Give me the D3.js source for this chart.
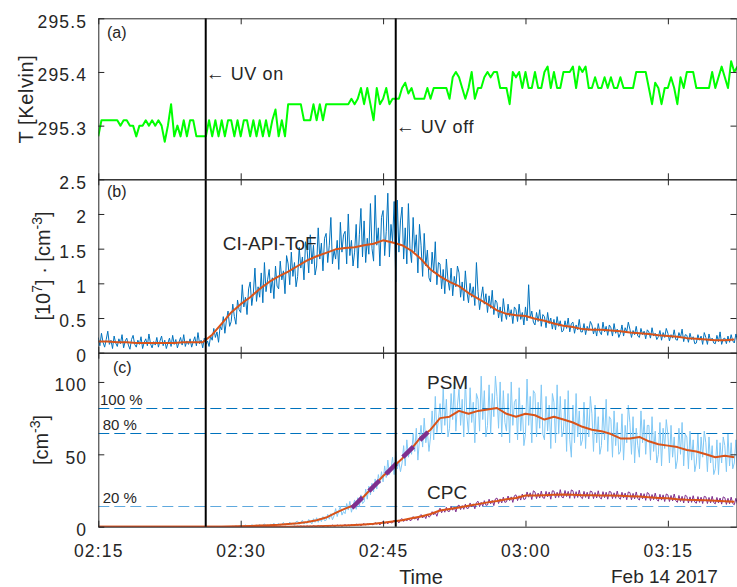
<!DOCTYPE html>
<html><head><meta charset="utf-8">
<script src="https://cdn.jsdelivr.net/npm/d3@7"></script>
<style>
body{margin:0;background:#fff}
svg{display:block}
text{font-family:"Liberation Sans",Arial,sans-serif;fill:#262626}
</style>
</head><body><svg id="c" width="737" height="587"></svg>
<script>
// ---------- data ----------
const startTime = "2017-02-14T02:15:00Z";
const endTime = "2017-02-14T03:22:17Z";
const tempStepSeconds = 20;
const ciRawStepSeconds = 10;
const psmRawStepSeconds = 10;
const cpcRawStepSeconds = 10;
const smoothStepSeconds = 60;
const xTickTimes = ["02:15","02:30","02:45","03:00","03:15"];
const dateLabel = "Feb 14 2017";
const uvTimes = ["02:26:19","02:46:20"];
const uvLabels = ["UV on","UV off"];

const tempTicks = [295.3,295.4,295.5];
const ciTicks = [0,0.5,1,1.5,2,2.5];
const cTicks = [0,50,100];

const temperature = [
295.28,295.31,295.31,295.31,295.31,295.31,295.31,295.30,295.31,295.31,
295.30,295.30,295.28,295.30,295.30,295.31,295.30,295.31,295.30,295.31,
295.30,295.27,295.30,295.34,295.28,295.30,295.28,295.31,295.28,295.31,
295.31,295.28,295.28,295.28,295.28,295.31,295.28,295.31,295.28,295.31,
295.28,295.31,295.31,295.28,295.31,295.28,295.31,295.31,295.28,295.31,
295.28,295.31,295.28,295.31,295.28,295.31,295.33,295.28,295.31,295.28,
295.34,295.34,295.34,295.34,295.34,295.31,295.31,295.31,295.34,295.31,
295.34,295.31,295.34,295.34,295.34,295.34,295.34,295.34,295.34,295.34,
295.35,295.34,295.35,295.37,295.34,295.37,295.34,295.31,295.37,295.34,
295.35,295.37,295.34,295.35,295.35,295.35,295.37,295.38,295.36,295.37,
295.35,295.35,295.35,295.35,295.37,295.35,295.37,295.37,295.37,295.37,
295.37,295.35,295.39,295.40,295.39,295.37,295.35,295.37,295.40,295.35,
295.37,295.37,295.39,295.40,295.39,295.40,295.40,295.37,295.37,295.37,
295.34,295.40,295.39,295.40,295.37,295.40,295.37,295.37,295.40,295.37,
295.37,295.40,295.41,295.37,295.40,295.37,295.37,295.40,295.40,295.40,
295.41,295.37,295.41,295.40,295.41,295.37,295.37,295.39,295.37,295.37,
295.39,295.37,295.39,295.37,295.37,295.39,295.37,295.37,295.37,295.37,
295.40,295.40,295.40,295.40,295.37,295.34,295.38,295.37,295.34,295.37,
295.37,295.39,295.37,295.34,295.39,295.37,295.40,295.40,295.40,295.37,
295.37,295.37,295.37,295.37,295.40,295.37,295.39,295.41,295.39,295.37,
295.42,295.40,295.41];

const ciRaw = [
0.22,0.10,0.28,0.15,0.08,0.19, 0.31,0.12,0.18,0.06,0.24,0.14, 0.09,0.20,0.13,0.26,0.07,0.17,
0.21,0.11,0.05,0.19,0.25,0.12, 0.08,0.18,0.12,0.23,0.06,0.15, 0.20,0.10,0.27,0.13,0.07,0.16,
0.11,0.22,0.08,0.17,0.24,0.10, 0.18,0.06,0.14,0.21,0.09,0.25, 0.12,0.19,0.07,0.15,0.22,0.11,
0.26,0.09,0.17,0.12,0.20,0.08, 0.16,0.23,0.10,0.29,0.13,0.18, 0.07,0.21,0.12,0.17,0.09,0.24,
0.18,0.35,0.22,0.30,0.15,0.38, 0.33,0.52,0.28,0.47,0.60,0.38, 0.45,0.70,0.52,0.41,0.76,0.62,
0.58,0.98,0.66,0.80,0.55,0.92, 1.02,0.68,0.86,1.22,0.74,0.95, 0.80,1.15,0.72,1.30,0.88,1.05,
1.20,0.86,1.08,0.78,1.25,0.96, 0.92,1.32,1.05,1.18,0.85,1.40, 1.28,0.98,1.45,1.10,1.30,0.95,
1.10,1.52,1.22,1.38,1.05,1.60, 1.48,1.15,1.70,1.28,1.55,1.12, 1.25,1.80,1.35,1.58,1.18,1.65,
1.72,1.30,1.55,1.95,1.28,1.48, 1.35,1.62,1.20,1.88,1.45,1.70, 1.75,1.28,2.00,1.40,1.62,1.25,
1.45,1.85,1.22,1.70,2.08,1.38, 1.90,1.30,1.65,1.42,2.15,1.50, 1.32,2.27,1.55,1.80,1.25,1.95,
2.05,1.40,1.75,2.30,1.38,1.85, 1.60,2.18,1.02,2.20,1.45,1.90, 2.10,1.35,1.80,1.28,2.15,1.50,
1.30,1.95,1.45,1.70,1.15,1.85, 1.55,1.10,1.72,1.25,1.48,1.08, 1.02,1.45,1.15,1.60,0.98,1.30,
1.28,0.92,1.20,0.85,1.35,1.05, 0.90,1.22,0.82,1.10,0.95,1.25, 1.15,0.80,1.02,0.75,1.18,0.88,
0.72,1.00,0.80,0.95,0.68,1.30, 0.88,0.62,0.80,0.95,0.70,0.85, 0.58,0.82,0.64,0.90,0.55,0.76,
0.72,0.50,0.66,0.45,0.78,0.58, 0.48,0.70,0.52,0.62,0.42,0.66, 0.62,0.45,0.70,0.48,0.58,0.40,
0.66,0.46,0.98,0.50,0.60,0.44, 0.40,0.58,0.45,0.62,0.38,0.55, 0.52,0.36,0.58,0.42,0.50,0.34,
0.48,0.33,0.52,0.38,0.46,0.30, 0.32,0.46,0.35,0.50,0.30,0.42, 0.44,0.28,0.40,0.33,0.48,0.30,
0.30,0.42,0.26,0.38,0.32,0.45, 0.40,0.27,0.36,0.24,0.42,0.30, 0.26,0.44,0.30,0.38,0.25,0.40,
0.36,0.24,0.42,0.28,0.34,0.22, 0.28,0.40,0.24,0.36,0.30,0.44, 0.34,0.22,0.32,0.26,0.38,0.24,
0.22,0.35,0.26,0.31,0.20,0.33, 0.30,0.21,0.36,0.24,0.28,0.19, 0.23,0.32,0.18,0.29,0.22,0.35,
0.28,0.17,0.26,0.21,0.33,0.19, 0.18,0.29,0.22,0.34,0.16,0.26, 0.25,0.15,0.28,0.19,0.23,0.13,
0.14,0.26,0.18,0.24,0.12,0.29, 0.22,0.12,0.27,0.17,0.21,0.14, 0.13,0.25,0.16,0.30,0.12,0.20,
0.21,0.13,0.24,0.15,0.26,0.17, 0.14,0.27,0.18];

const ciSmooth = [
0.16,0.16,0.15,0.15,0.14,0.14,0.14,0.14,0.14,0.15,0.15,0.15,0.26,0.42,0.58,0.70,0.80,0.92,1.02,1.10,
1.17,1.25,1.33,1.39,1.44,1.49,1.51,1.52,1.55,1.57,1.62,1.59,1.55,1.47,1.35,1.20,1.10,1.02,0.96,0.86,
0.78,0.70,0.61,0.56,0.54,0.53,0.49,0.46,0.42,0.39,0.37,0.34,0.33,0.33,0.32,0.31,0.29,0.28,0.27,0.25,
0.24,0.23,0.21,0.20,0.19,0.18,0.18,0.19];

const psmRaw = [
0,0,0,0,0,0,0,0,0,0,0,0,0,0,0,0,0,0,0,0,0,0,0,0,0,0,0,0,0,0,0,0,0,0,0,0,0,0,0,0,0,0,
0,0,0,0,0,0,0,0,0,0,0,0,0,0,0,0,0,0,0,0,0,0,0,0,0,0,0,0,0,0,0,0,0,0,0,0,0,0,0,0,0,0,
0,0.3,0,0.6,0.1,0.4, 0.8,0,0.5,1.2,0.2,0.6, 0.2,1.4,0.6,0.1,1.1,0.4, 1.6,0.3,1.0,2.0,0.5,1.2,
0.6,1.8,0.9,2.4,0.4,1.5, 2.2,0.8,1.6,3.0,1.0,1.9, 1.2,3.2,1.5,2.6,0.9,3.5, 3.8,1.6,2.8,4.5,1.8,3.2,
2.2,5.0,3.4,1.9,5.5,3.0, 6.2,3.0,5.8,3.5,7.0,4.2, 4.5,8.5,5.2,9.0,4.8,7.5, 12.5,7.0,11.0,14.0,8.0,10.5,
9.0,16.0,11.5,17.5,10.0,14.5, 18.5,12.0,20.0,14.0,22.0,16.0, 17,26,19,28,22,30, 24,33,26,36,30,38,
31,42,34,46,36,40, 48,36,52,40,45,38, 44,56,42,60,48,54, 50,64,52,68,46,60,
70,55,75,58,66,52, 62,80,60,90,65,74, 85,64,96,70,88,62, 68,92,74,100,66,84,
95,70,88,62,102,76, 64,96,72,86,58,92, 88,66,104,74,94,62, 70,98,64,92,76,104,
90,68,100,62,94,72, 66,92,58,100,70,86, 88,60,96,66,84,56, 64,102,70,90,58,94,
92,62,86,68,98,64, 60,90,66,84,54,92, 86,58,98,64,90,62, 66,88,52,94,60,48,
84,58,92,62,80,56, 60,86,54,82,62,90, 78,52,84,58,76,50, 56,82,60,88,52,76,
74,48,80,56,72,50, 52,78,46,70,58,84, 72,50,76,44,68,56, 48,80,58,74,50,70,
70,46,76,52,66,44, 50,72,42,68,54,74, 64,44,70,48,62,40, 46,68,50,72,42,64,
62,40,66,46,60,38, 44,64,40,62,48,66, 58,38,62,44,56,36, 40,60,36,58,44,62,
56,38,64,42,58,40, 44,60,38];

const psmSmooth = [
0,0,0,0,0,0,0,0,0,0,0,0,0,0,0.1,0.3,0.5,0.8,1.0,1.3,
1.8,2.4,3.2,4.5,6.3,9.5,12.5,15,21,28,35,41,47,54,62,67,75,76,80,78,
80,81,82,78,76,78,77,74,76,74,72,69,67,66,64,61,61,62,59,57,
56,55,53,52,50,48,49,48];

const cpcRaw = [
0,0,0,0,0,0,0,0,0,0,0,0,0,0,0,0,0,0,0,0,0,0,0,0,0,0,0,0,0,0,0,0,0,0,0,0,0,0,0,0,0,0,
0,0,0,0,0,0,0,0,0,0,0,0,0,0,0,0,0,0,0,0,0,0,0,0,0,0,0,0,0,0,0,0,0,0,0,0,0,0,0,0,0,0,
0,0,0,0,0,0,0,0,0,0,0,0,0,0,0,0,0,0,0,0,0,0,0,0,0,0,0,0,0,0,0,0,0,0,0,0,0,0,0,0,0,0,
0.3,0,0.5,0.1,0.4,0, 0.6,0.1,0.4,0,0.7,0.2, 0.1,0.8,0.3,0.6,0,0.5, 0.9,0.2,0.7,0.4,1.1,0.3,
0.4,1.2,0.6,1.0,0.3,0.9, 1.4,0.6,1.2,0.5,1.5,0.8, 0.8,1.8,1.0,1.6,0.7,1.5, 2.2,1.1,1.9,1.3,2.5,1.4,
1.5,2.8,1.8,2.4,1.2,2.6, 3.6,2.2,3.2,1.9,3.9,2.6, 2.8,4.6,3.3,4.2,2.6,4.8, 5.6,3.6,5.0,3.9,6.0,4.2,
4.6,7.0,5.2,6.6,4.4,7.2, 8.4,6.0,7.8,5.6,8.8,6.6, 7.4,10.4,8.2,9.8,7.2,10.8, 12.8,9.6,12.2,10.0,13.4,10.6,
10.6,14.0,11.4,13.6,10.2,14.2, 15.0,11.8,14.6,12.0,15.6,12.6, 12.8,16.4,13.6,15.8,12.4,16.6,
17.6,13.8,16.8,14.2,18.0,14.8, 15.0,19.0,15.8,18.2,14.6,19.2, 19.8,16.0,19.2,16.4,20.4,16.8,
17.2,21.2,18.0,20.6,16.8,21.4, 22.0,18.0,21.4,18.4,22.6,18.8, 19.2,24.0,20.4,23.4,18.8,24.8,
24.0,19.4,23.2,19.8,24.6,20.0, 19.6,24.4,20.6,24.0,19.0,24.8, 24.6,19.8,23.8,20.2,25.6,20.4,
20.0,25.0,20.8,24.4,19.6,25.4, 24.8,19.6,24.2,20.2,25.2,20.4, 19.4,24.4,20.2,23.8,19.2,24.6,
24.2,19.4,23.6,19.8,24.8,20.0, 19.2,24.2,20.0,23.8,19.0,24.4, 24.0,19.4,23.4,19.6,24.6,20.0,
19.0,23.8,19.8,23.2,18.6,24.0, 23.6,18.6,23.0,19.2,24.0,19.4, 18.4,23.2,19.2,22.8,18.2,23.6,
22.8,18.0,22.2,18.6,23.2,18.8, 17.6,22.4,18.4,22.0,17.4,22.6, 22.0,17.4,21.6,17.8,22.6,18.0,
16.8,21.6,17.4,21.0,16.4,21.8, 21.0,16.4,20.6,16.8,21.4,17.0, 16.2,20.8,16.8,20.4,16.0,21.0,
20.6,16.0,20.2,16.4,21.0,16.6, 15.8,20.2,16.4,19.8,15.6,20.6, 20.0,15.4,19.6,15.8,20.4,16.0,
15.2,19.6,15.6];

const cpcSmooth = [
0,0,0,0,0,0,0,0,0,0,0,0,0,0,0,0,0,0,0,0,
0,0.1,0.2,0.3,0.5,0.7,0.9,1.2,1.6,2.0,2.8,3.6,4.5,5.8,7.0,8.8,11.2,12.2,13.3,14.5,
15.6,16.8,17.8,19.0,19.8,21.5,21.6,21.8,22.0,22.2,22.1,21.8,21.7,21.6,21.6,21.3,21.0,20.8,20.3,19.9,
19.6,19.0,18.6,18.4,18.2,18.0,17.6,17.3];

const levelValues = [82.2, 64.4, 14.6];
const levelLabels = ["100 %","80 %","20 %"];
const fitTimes = ["02:41:43","02:49:44"];
const fitValues = [12.9, 65.4];
const panelLabels = ["(a)","(b)","(c)"];

// ---------- drawing ----------
const svg = d3.select("#c");
const t0 = new Date(startTime), t1 = new Date(endTime);
const clock = s => { const [h,m,sec] = s.split(":").map(Number); return new Date(Date.UTC(2017,1,14,h,m,sec||0)); };
const atStep = step => (v,i) => ({t: new Date(+t0 + i*step*1000), v});

const L = 98.3, R = 737;
const x = d3.scaleUtc().domain([t0,t1]).range([L,R]);
const panels = [
  {top:18.3, bottom:179.3, dom:[295.2,295.5], ticks:tempTicks, fmt:d=>d.toFixed(1)},
  {top:179.3, bottom:352.7, dom:[0,2.5], ticks:ciTicks, fmt:d=>String(d)},
  {top:352.7, bottom:526.7, dom:[0,120.2], ticks:cTicks, fmt:d=>String(d)}
];
panels.forEach((p,k)=>{
  p.y = d3.scaleLinear().domain(p.dom).range([p.bottom,p.top]);
  svg.append("clipPath").attr("id","clip"+k).append("rect")
     .attr("x",L).attr("y",p.top).attr("width",R-L).attr("height",p.bottom-p.top);
  p.g = svg.append("g").attr("clip-path",`url(#clip${k})`);
});
const line = (y)=>d3.line().x(d=>x(d.t)).y(d=>y(d.v));
const xTicks = xTickTimes.map(clock);
const addPath = (p,data,color,w)=>p.g.append("path").datum(data).attr("d",line(p.y))
   .attr("fill","none").attr("stroke",color).attr("stroke-width",w).attr("stroke-linejoin","round");

// panel a
addPath(panels[0], temperature.map(atStep(tempStepSeconds)), "#00ff00", 2);
// panel b
addPath(panels[1], ciRaw.map(atStep(ciRawStepSeconds)), "#0072BD", 1);
addPath(panels[1], ciSmooth.map(atStep(smoothStepSeconds)), "#D95319", 2);
// panel c
{
  const p = panels[2];
  const lvCol = ["#0072BD","#0072BD","#5fa9de"];
  const lvl = j => p.g.append("line").attr("x1",L).attr("x2",R)
      .attr("y1",Math.round(p.y(levelValues[j]))+0.5).attr("y2",Math.round(p.y(levelValues[j]))+0.5)
      .attr("stroke",lvCol[j]).attr("stroke-width",1).attr("stroke-dasharray","11,5");
  lvl(1); lvl(2);
  addPath(p, psmRaw.map(atStep(psmRawStepSeconds)), "#80c8f5", 1);
  lvl(0);
  addPath(p, psmSmooth.map(atStep(smoothStepSeconds)), "#D95319", 2);
  addPath(p, cpcRaw.map(atStep(cpcRawStepSeconds)), "#7E2F8E", 1);
  addPath(p, cpcSmooth.map(atStep(smoothStepSeconds)), "#D95319", 2);
  addPath(p, fitTimes.map((s,i)=>({t:clock(s),v:fitValues[i]})), "#7E2F8E", 4.5)
     .attr("stroke-dasharray","15,9").attr("stroke-linecap","butt");
}

// UV lines
uvTimes.forEach(s=>{
  const xx = x(clock(s));
  svg.append("line").attr("x1",xx).attr("x2",xx).attr("y1",panels[0].top).attr("y2",panels[2].bottom)
    .attr("stroke","#000").attr("stroke-width",2);
});

// axes
const axCol = "#262626";
function styleAxis(g){
  g.attr("font-family",'"Liberation Sans",Arial,sans-serif').attr("font-size",17.5);
  g.selectAll("path,line").attr("stroke",axCol).attr("stroke-width",1);
  g.selectAll("text").attr("fill",axCol).attr("letter-spacing",1.2);
}
panels.forEach((p,k)=>{
  const gl = svg.append("g").attr("transform",`translate(${L},0)`)
    .call(d3.axisLeft(p.y).tickValues(p.ticks).tickFormat(p.fmt).tickSizeInner(-6).tickSizeOuter(0).tickPadding(11));
  styleAxis(gl); gl.selectAll("text").attr("dy","0.5em");
  const gr = svg.append("g").attr("transform",`translate(${R-0.5},0)`)
    .call(d3.axisRight(p.y).tickValues(p.ticks).tickFormat("").tickSizeInner(-6).tickSizeOuter(0));
  styleAxis(gr);
  const gt = svg.append("g").attr("transform",`translate(0,${p.top})`)
    .call(d3.axisTop(x).tickValues(xTicks).tickFormat("").tickSizeInner(-6).tickSizeOuter(0));
  styleAxis(gt);
  const gb = svg.append("g").attr("transform",`translate(0,${p.bottom})`)
    .call(d3.axisBottom(x).tickValues(xTicks).tickFormat(k===2?d3.utcFormat("%H:%M"):"").tickSizeInner(-6).tickSizeOuter(0).tickPadding(18));
  styleAxis(gb);
  svg.append("text").attr("x",k===2?113:107).attr("y",[38,197,373][k]).attr("font-size",16).text(panelLabels[k]);
});

// y labels
const yl = (cx,cy)=>svg.append("text").attr("transform",`translate(${cx},${cy}) rotate(-90)`)
   .attr("text-anchor","middle").attr("font-size",20);
yl(33,99).attr("letter-spacing",0.6).text("T [Kelvin]");
{
  const t = yl(50,266);
  t.append("tspan").text("[10");
  t.append("tspan").attr("dy",-8).attr("font-size",14).text("7");
  t.append("tspan").attr("dy",8).text("] \u00b7 [cm");
  t.append("tspan").attr("dy",-8).attr("font-size",14).text("-3");
  t.append("tspan").attr("dy",8).text("]");
}
{
  const t = yl(47.5,440);
  t.append("tspan").text("[cm");
  t.append("tspan").attr("dy",-8).attr("font-size",14).text("-3");
  t.append("tspan").attr("dy",8).text("]");
}

// x labels
svg.append("text").attr("x",421).attr("y",584).attr("text-anchor","middle").attr("font-size",20).text("Time");
svg.append("text").attr("x",611).attr("y",583).attr("font-size",19).text(dateLabel);

// annotations
[[0,79.5],[1,133.3]].forEach(([j,yy])=>{
  const xx = x(clock(uvTimes[j]));
  svg.append("text").attr("x",xx).attr("y",yy).attr("font-size",19)
    .attr("font-family","DejaVu Sans").attr("font-weight",200).text("\u2190");
  svg.append("text").attr("x",xx+25).attr("y",yy).attr("font-size",18).attr("letter-spacing",0.6).text(uvLabels[j]);
});
svg.append("text").attr("x",222.7).attr("y",250).attr("font-size",19).text("CI-API-ToF");
svg.append("text").attr("x",427).attr("y",389).attr("font-size",19).text("PSM");
svg.append("text").attr("x",427).attr("y",499).attr("font-size",19).text("CPC");
const p3 = panels[2];
[0,1,2].forEach(j=>{
  svg.append("text").attr("x",j===0?100:102.7).attr("y",p3.y(levelValues[j])-3).attr("font-size",15).text(levelLabels[j]);
});
</script></body></html>
